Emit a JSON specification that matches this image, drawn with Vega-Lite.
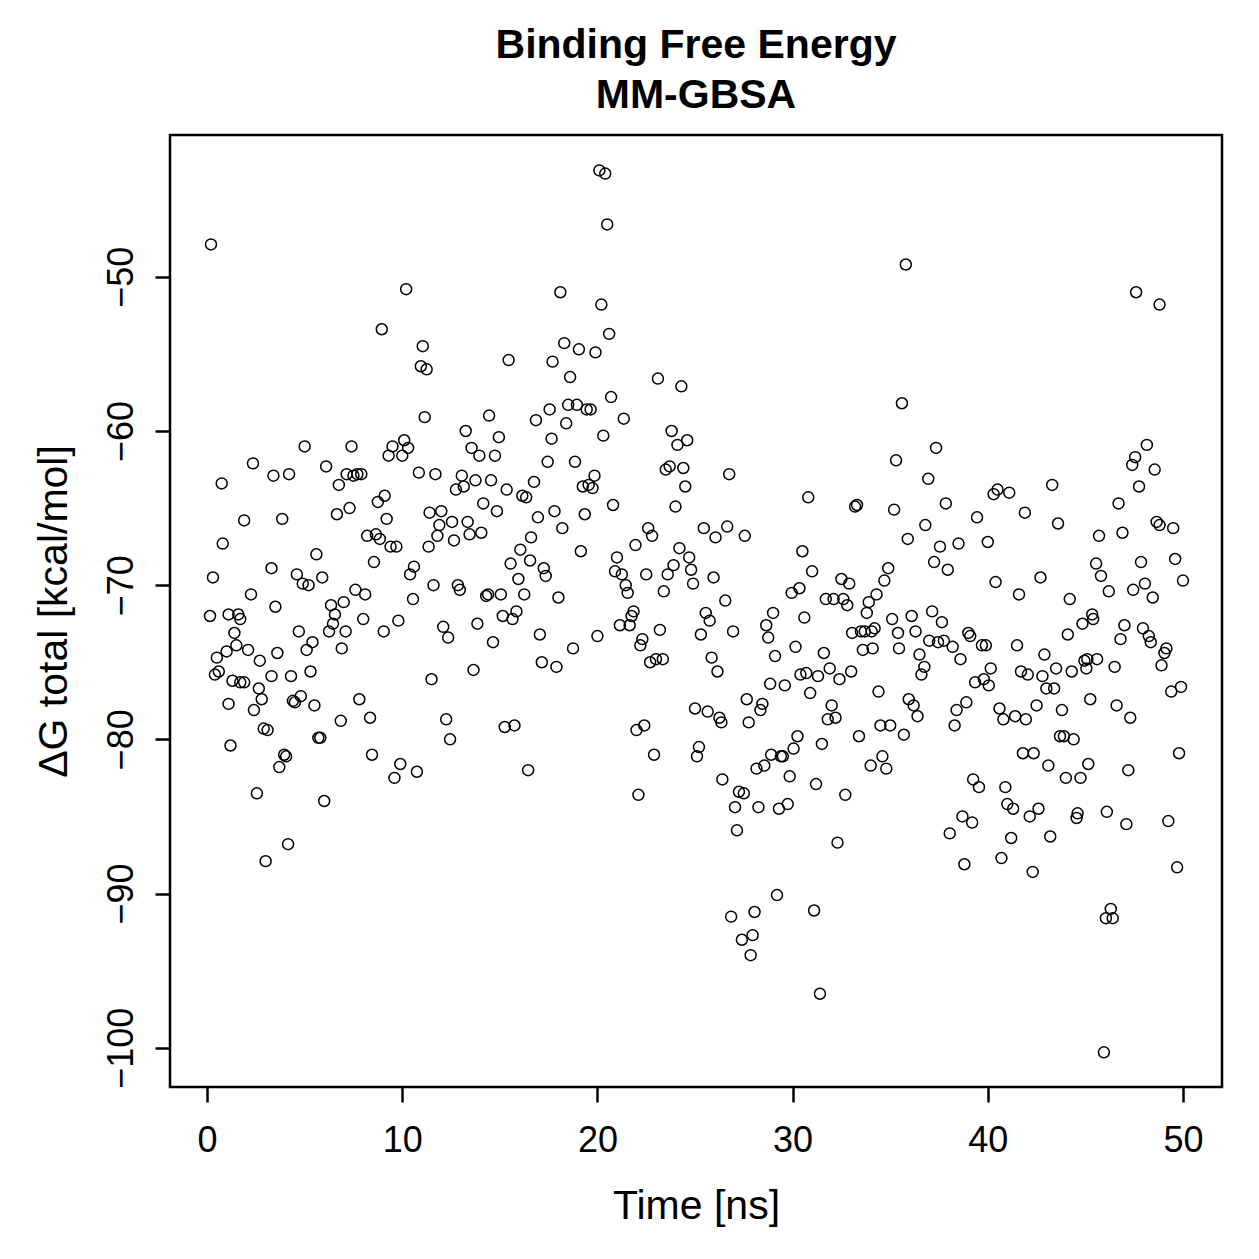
{
  "$schema": "https://vega.github.io/schema/vega-lite/v6.json",
  "width": 1052,
  "height": 952,
  "autosize": {"type": "none"},
  "padding": {"left": 170, "top": 135, "right": 37, "bottom": 172},
  "background": "white",
  "title": {
    "text": ["Binding Free Energy", "MM-GBSA"],
    "font": "Liberation Sans",
    "fontSize": 41,
    "fontWeight": "bold",
    "color": "black",
    "anchor": "middle",
    "frame": "group",
    "lineHeight": 50,
    "baseline": "alphabetic",
    "offset": 27,
    "dy": 41
  },
  "config": {
    "view": {"stroke": "black", "strokeWidth": 2.5},
    "axis": {
      "labelFont": "Liberation Sans",
      "titleFont": "Liberation Sans",
      "labelColor": "black",
      "titleColor": "black",
      "labelFontSize": 36,
      "titleFontSize": 41,
      "titleFontWeight": "normal",
      "domain": false,
      "grid": false,
      "ticks": true,
      "tickColor": "black",
      "tickWidth": 2.5,
      "tickSize": 15
    }
  },
  "data": {
    "values": [
      {"t":0.2,"dG":-47.9},{"t":0.15,"dG":-72.0},{"t":0.3,"dG":-69.5},{"t":0.4,"dG":-75.8},{"t":0.5,"dG":-74.7},
      {"t":0.6,"dG":-75.6},{"t":0.75,"dG":-63.4},{"t":0.8,"dG":-67.3},{"t":1.0,"dG":-74.3},{"t":1.1,"dG":-71.9},
      {"t":1.1,"dG":-77.7},{"t":1.2,"dG":-80.4},{"t":1.3,"dG":-76.2},{"t":1.4,"dG":-73.1},{"t":1.5,"dG":-73.9},
      {"t":1.6,"dG":-71.9},{"t":1.7,"dG":-72.2},{"t":1.7,"dG":-76.3},{"t":1.9,"dG":-76.3},{"t":1.9,"dG":-65.8},
      {"t":2.1,"dG":-74.2},{"t":2.25,"dG":-70.6},{"t":2.35,"dG":-62.1},{"t":2.4,"dG":-78.1},{"t":2.55,"dG":-83.5},
      {"t":2.65,"dG":-76.7},{"t":2.7,"dG":-74.9},{"t":2.8,"dG":-77.4},{"t":2.9,"dG":-79.3},{"t":3.0,"dG":-87.9},
      {"t":3.1,"dG":-79.4},{"t":3.3,"dG":-75.9},{"t":3.3,"dG":-68.9},{"t":3.4,"dG":-62.9},{"t":3.5,"dG":-71.4},
      {"t":3.6,"dG":-74.4},{"t":3.7,"dG":-81.8},{"t":3.85,"dG":-65.7},{"t":3.95,"dG":-81.0},{"t":4.05,"dG":-81.1},
      {"t":4.15,"dG":-86.8},{"t":4.2,"dG":-62.8},{"t":4.3,"dG":-75.9},{"t":4.4,"dG":-77.5},{"t":4.5,"dG":-77.6},
      {"t":4.6,"dG":-69.3},{"t":4.7,"dG":-73.0},{"t":4.8,"dG":-77.2},{"t":4.9,"dG":-69.9},{"t":5.0,"dG":-61.0},
      {"t":5.1,"dG":-74.2},{"t":5.2,"dG":-70.0},{"t":5.3,"dG":-75.6},{"t":5.4,"dG":-73.7},{"t":5.5,"dG":-77.8},
      {"t":5.6,"dG":-68.0},{"t":5.7,"dG":-79.9},{"t":5.8,"dG":-79.9},{"t":5.9,"dG":-69.5},{"t":6.0,"dG":-84.0},
      {"t":6.1,"dG":-62.3},{"t":6.25,"dG":-73.0},{"t":6.35,"dG":-71.3},{"t":6.45,"dG":-72.5},{"t":6.55,"dG":-71.9},
      {"t":6.65,"dG":-65.4},{"t":6.75,"dG":-63.5},{"t":6.85,"dG":-78.8},{"t":6.9,"dG":-74.1},{"t":7.0,"dG":-71.1},
      {"t":7.1,"dG":-73.0},{"t":7.15,"dG":-62.8},{"t":7.3,"dG":-65.0},{"t":7.4,"dG":-61.0},{"t":7.5,"dG":-62.9},
      {"t":7.6,"dG":-70.3},{"t":7.7,"dG":-62.8},{"t":7.8,"dG":-77.4},{"t":7.9,"dG":-62.8},{"t":8.0,"dG":-72.2},
      {"t":8.1,"dG":-70.6},{"t":8.2,"dG":-66.8},{"t":8.35,"dG":-78.6},{"t":8.45,"dG":-81.0},{"t":8.55,"dG":-68.5},
      {"t":8.65,"dG":-66.7},{"t":8.75,"dG":-64.6},{"t":8.85,"dG":-67.0},{"t":8.95,"dG":-53.4},{"t":9.05,"dG":-73.0},
      {"t":9.1,"dG":-64.2},{"t":9.2,"dG":-65.7},{"t":9.3,"dG":-61.6},{"t":9.4,"dG":-67.5},{"t":9.5,"dG":-61.0},
      {"t":9.6,"dG":-82.5},{"t":9.7,"dG":-67.5},{"t":9.8,"dG":-72.3},{"t":9.9,"dG":-81.6},{"t":10.0,"dG":-61.6},
      {"t":10.1,"dG":-60.6},{"t":10.2,"dG":-50.8},{"t":10.3,"dG":-61.1},{"t":10.4,"dG":-69.3},{"t":10.55,"dG":-70.9},
      {"t":10.6,"dG":-68.8},{"t":10.75,"dG":-82.1},{"t":10.85,"dG":-62.7},{"t":10.95,"dG":-55.8},{"t":11.05,"dG":-54.5},
      {"t":11.15,"dG":-59.1},{"t":11.25,"dG":-56.0},{"t":11.35,"dG":-67.5},{"t":11.4,"dG":-65.3},{"t":11.5,"dG":-76.1},
      {"t":11.6,"dG":-70.0},{"t":11.7,"dG":-62.8},{"t":11.8,"dG":-66.8},{"t":11.9,"dG":-66.1},{"t":12.0,"dG":-65.2},
      {"t":12.1,"dG":-72.7},{"t":12.25,"dG":-78.7},{"t":12.35,"dG":-73.4},{"t":12.45,"dG":-80.0},{"t":12.55,"dG":-65.9},
      {"t":12.65,"dG":-67.1},{"t":12.75,"dG":-63.8},{"t":12.85,"dG":-70.0},{"t":12.95,"dG":-70.3},{"t":13.05,"dG":-62.9},
      {"t":13.15,"dG":-63.6},{"t":13.25,"dG":-60.0},{"t":13.35,"dG":-65.9},{"t":13.45,"dG":-66.7},{"t":13.55,"dG":-61.1},
      {"t":13.65,"dG":-75.5},{"t":13.75,"dG":-63.2},{"t":13.85,"dG":-72.5},{"t":13.95,"dG":-61.6},{"t":14.05,"dG":-66.6},
      {"t":14.15,"dG":-64.7},{"t":14.3,"dG":-70.7},{"t":14.4,"dG":-70.6},{"t":14.45,"dG":-59.0},{"t":14.55,"dG":-63.2},
      {"t":14.65,"dG":-73.7},{"t":14.75,"dG":-61.6},{"t":14.85,"dG":-65.2},{"t":14.95,"dG":-60.4},{"t":15.05,"dG":-70.6},
      {"t":15.15,"dG":-72.0},{"t":15.25,"dG":-79.2},{"t":15.35,"dG":-63.8},{"t":15.45,"dG":-55.4},{"t":15.55,"dG":-68.6},
      {"t":15.65,"dG":-72.2},{"t":15.75,"dG":-79.1},{"t":15.85,"dG":-71.7},{"t":15.95,"dG":-69.6},{"t":16.05,"dG":-67.7},
      {"t":16.15,"dG":-64.2},{"t":16.25,"dG":-70.6},{"t":16.35,"dG":-64.3},{"t":16.45,"dG":-82.0},{"t":16.55,"dG":-68.4},
      {"t":16.6,"dG":-66.9},{"t":16.75,"dG":-63.3},{"t":16.85,"dG":-59.3},{"t":16.95,"dG":-65.6},{"t":17.05,"dG":-73.2},
      {"t":17.15,"dG":-75.0},{"t":17.25,"dG":-68.9},{"t":17.35,"dG":-69.4},{"t":17.45,"dG":-62.0},{"t":17.55,"dG":-58.6},
      {"t":17.65,"dG":-60.5},{"t":17.7,"dG":-55.5},{"t":17.8,"dG":-65.2},{"t":17.9,"dG":-75.3},{"t":18.0,"dG":-70.8},
      {"t":18.1,"dG":-51.0},{"t":18.2,"dG":-66.3},{"t":18.3,"dG":-54.3},{"t":18.4,"dG":-59.5},{"t":18.5,"dG":-58.3},
      {"t":18.6,"dG":-56.5},{"t":18.75,"dG":-74.1},{"t":18.85,"dG":-62.0},{"t":18.95,"dG":-58.3},{"t":19.05,"dG":-54.7},
      {"t":19.15,"dG":-67.8},{"t":19.25,"dG":-63.6},{"t":19.35,"dG":-65.4},{"t":19.45,"dG":-58.6},{"t":19.55,"dG":-63.5},
      {"t":19.65,"dG":-58.6},{"t":19.75,"dG":-63.7},{"t":19.85,"dG":-62.9},{"t":19.9,"dG":-54.9},{"t":20.0,"dG":-73.3},
      {"t":20.1,"dG":-43.1},{"t":20.2,"dG":-51.8},{"t":20.3,"dG":-60.3},{"t":20.4,"dG":-43.3},{"t":20.5,"dG":-46.6},
      {"t":20.6,"dG":-53.7},{"t":20.7,"dG":-57.8},{"t":20.8,"dG":-64.8},{"t":20.9,"dG":-69.1},{"t":21.0,"dG":-68.2},
      {"t":21.15,"dG":-72.6},{"t":21.25,"dG":-69.3},{"t":21.35,"dG":-59.2},{"t":21.45,"dG":-70.0},{"t":21.55,"dG":-70.5},
      {"t":21.65,"dG":-72.6},{"t":21.75,"dG":-72.0},{"t":21.85,"dG":-71.7},{"t":21.95,"dG":-67.4},{"t":22.0,"dG":-79.4},
      {"t":22.1,"dG":-83.6},{"t":22.2,"dG":-73.9},{"t":22.3,"dG":-73.5},{"t":22.4,"dG":-79.1},{"t":22.5,"dG":-69.3},
      {"t":22.6,"dG":-66.3},{"t":22.7,"dG":-75.0},{"t":22.8,"dG":-66.8},{"t":22.9,"dG":-81.0},{"t":23.0,"dG":-74.8},
      {"t":23.1,"dG":-56.6},{"t":23.2,"dG":-72.9},{"t":23.35,"dG":-74.8},{"t":23.4,"dG":-70.4},{"t":23.5,"dG":-62.5},
      {"t":23.6,"dG":-69.3},{"t":23.7,"dG":-62.3},{"t":23.8,"dG":-60.0},{"t":23.9,"dG":-68.7},{"t":24.0,"dG":-64.9},
      {"t":24.1,"dG":-60.9},{"t":24.2,"dG":-67.6},{"t":24.3,"dG":-57.1},{"t":24.4,"dG":-62.4},{"t":24.5,"dG":-63.6},
      {"t":24.6,"dG":-60.6},{"t":24.7,"dG":-68.2},{"t":24.8,"dG":-69.0},{"t":24.9,"dG":-69.9},{"t":25.0,"dG":-78.0},
      {"t":25.1,"dG":-81.1},{"t":25.2,"dG":-80.5},{"t":25.3,"dG":-73.2},{"t":25.45,"dG":-66.3},{"t":25.55,"dG":-71.8},
      {"t":25.65,"dG":-78.2},{"t":25.75,"dG":-72.3},{"t":25.85,"dG":-74.7},{"t":25.95,"dG":-69.5},{"t":26.05,"dG":-66.9},
      {"t":26.15,"dG":-75.6},{"t":26.25,"dG":-78.6},{"t":26.35,"dG":-78.9},{"t":26.4,"dG":-82.6},{"t":26.55,"dG":-71.0},
      {"t":26.65,"dG":-66.2},{"t":26.75,"dG":-62.8},{"t":26.85,"dG":-91.5},{"t":26.95,"dG":-73.0},{"t":27.05,"dG":-84.4},
      {"t":27.15,"dG":-85.9},{"t":27.25,"dG":-83.4},{"t":27.4,"dG":-93.0},{"t":27.5,"dG":-83.5},{"t":27.55,"dG":-66.8},
      {"t":27.65,"dG":-77.4},{"t":27.75,"dG":-78.9},{"t":27.85,"dG":-94.0},{"t":27.95,"dG":-92.7},{"t":28.05,"dG":-91.2},
      {"t":28.15,"dG":-81.9},{"t":28.25,"dG":-84.4},{"t":28.35,"dG":-78.1},{"t":28.45,"dG":-77.7},{"t":28.55,"dG":-81.7},
      {"t":28.65,"dG":-72.6},{"t":28.75,"dG":-73.4},{"t":28.85,"dG":-76.4},{"t":28.9,"dG":-81.0},{"t":29.0,"dG":-71.8},
      {"t":29.1,"dG":-74.6},{"t":29.2,"dG":-90.1},{"t":29.3,"dG":-84.5},{"t":29.4,"dG":-81.1},{"t":29.5,"dG":-81.1},
      {"t":29.6,"dG":-76.5},{"t":29.75,"dG":-84.2},{"t":29.85,"dG":-82.4},{"t":29.95,"dG":-70.5},{"t":30.05,"dG":-80.6},
      {"t":30.15,"dG":-74.0},{"t":30.25,"dG":-79.8},{"t":30.35,"dG":-70.2},{"t":30.4,"dG":-75.8},{"t":30.5,"dG":-67.8},
      {"t":30.6,"dG":-72.1},{"t":30.7,"dG":-75.7},{"t":30.8,"dG":-64.3},{"t":30.9,"dG":-77.0},{"t":31.0,"dG":-69.1},
      {"t":31.1,"dG":-91.1},{"t":31.2,"dG":-82.9},{"t":31.3,"dG":-75.9},{"t":31.4,"dG":-96.5},{"t":31.5,"dG":-80.3},
      {"t":31.6,"dG":-74.4},{"t":31.7,"dG":-70.9},{"t":31.8,"dG":-78.7},{"t":31.9,"dG":-75.4},{"t":32.0,"dG":-77.8},
      {"t":32.1,"dG":-70.9},{"t":32.2,"dG":-78.6},{"t":32.3,"dG":-86.7},{"t":32.4,"dG":-76.1},{"t":32.5,"dG":-69.6},
      {"t":32.6,"dG":-70.9},{"t":32.7,"dG":-83.6},{"t":32.8,"dG":-71.3},{"t":32.9,"dG":-69.9},{"t":33.0,"dG":-75.6},
      {"t":33.05,"dG":-73.1},{"t":33.2,"dG":-64.9},{"t":33.3,"dG":-64.8},{"t":33.4,"dG":-79.8},{"t":33.5,"dG":-73.0},
      {"t":33.6,"dG":-74.2},{"t":33.7,"dG":-73.0},{"t":33.8,"dG":-71.8},{"t":33.9,"dG":-71.1},{"t":34.0,"dG":-81.7},
      {"t":34.05,"dG":-73.0},{"t":34.1,"dG":-74.1},{"t":34.2,"dG":-72.8},{"t":34.3,"dG":-70.6},{"t":34.4,"dG":-76.9},
      {"t":34.5,"dG":-79.1},{"t":34.6,"dG":-81.1},{"t":34.7,"dG":-69.7},{"t":34.8,"dG":-81.9},{"t":34.9,"dG":-68.9},
      {"t":35.0,"dG":-79.1},{"t":35.1,"dG":-72.2},{"t":35.2,"dG":-65.1},{"t":35.3,"dG":-61.9},{"t":35.4,"dG":-73.1},
      {"t":35.45,"dG":-74.1},{"t":35.6,"dG":-58.2},{"t":35.7,"dG":-79.7},{"t":35.8,"dG":-49.2},{"t":35.9,"dG":-67.0},
      {"t":35.95,"dG":-77.4},{"t":36.1,"dG":-72.0},{"t":36.2,"dG":-77.8},{"t":36.3,"dG":-73.0},{"t":36.4,"dG":-78.5},
      {"t":36.5,"dG":-74.5},{"t":36.6,"dG":-75.8},{"t":36.75,"dG":-75.3},{"t":36.8,"dG":-66.1},{"t":36.95,"dG":-63.1},
      {"t":37.0,"dG":-73.6},{"t":37.15,"dG":-71.7},{"t":37.25,"dG":-68.5},{"t":37.35,"dG":-61.1},{"t":37.45,"dG":-73.7},
      {"t":37.55,"dG":-67.5},{"t":37.65,"dG":-72.4},{"t":37.75,"dG":-73.6},{"t":37.85,"dG":-64.7},{"t":37.95,"dG":-69.0},
      {"t":38.05,"dG":-86.1},{"t":38.2,"dG":-74.0},{"t":38.3,"dG":-79.1},{"t":38.4,"dG":-78.1},{"t":38.5,"dG":-67.3},
      {"t":38.6,"dG":-74.8},{"t":38.7,"dG":-85.0},{"t":38.8,"dG":-88.1},{"t":38.9,"dG":-77.6},{"t":39.0,"dG":-73.1},
      {"t":39.1,"dG":-73.3},{"t":39.2,"dG":-85.4},{"t":39.25,"dG":-82.6},{"t":39.35,"dG":-76.3},{"t":39.45,"dG":-65.6},
      {"t":39.55,"dG":-83.1},{"t":39.7,"dG":-73.9},{"t":39.8,"dG":-76.1},{"t":39.9,"dG":-73.9},{"t":40.0,"dG":-67.2},
      {"t":40.05,"dG":-76.5},{"t":40.15,"dG":-75.4},{"t":40.3,"dG":-64.1},{"t":40.4,"dG":-69.8},{"t":40.5,"dG":-63.8},
      {"t":40.6,"dG":-78.0},{"t":40.7,"dG":-87.7},{"t":40.8,"dG":-78.7},{"t":40.9,"dG":-83.1},{"t":41.0,"dG":-84.2},
      {"t":41.1,"dG":-64.0},{"t":41.2,"dG":-86.4},{"t":41.3,"dG":-84.5},{"t":41.4,"dG":-78.5},{"t":41.5,"dG":-73.9},
      {"t":41.6,"dG":-70.6},{"t":41.7,"dG":-75.6},{"t":41.8,"dG":-80.9},{"t":41.9,"dG":-65.3},{"t":41.95,"dG":-78.7},
      {"t":42.05,"dG":-75.8},{"t":42.15,"dG":-85.0},{"t":42.3,"dG":-88.6},{"t":42.35,"dG":-80.9},{"t":42.5,"dG":-77.8},
      {"t":42.6,"dG":-84.5},{"t":42.7,"dG":-69.5},{"t":42.8,"dG":-75.9},{"t":42.9,"dG":-74.5},{"t":43.0,"dG":-76.7},
      {"t":43.1,"dG":-81.7},{"t":43.2,"dG":-86.3},{"t":43.3,"dG":-63.5},{"t":43.4,"dG":-76.7},{"t":43.5,"dG":-75.4},
      {"t":43.6,"dG":-66.0},{"t":43.7,"dG":-79.8},{"t":43.8,"dG":-78.1},{"t":43.9,"dG":-79.8},{"t":44.0,"dG":-82.5},
      {"t":44.1,"dG":-73.2},{"t":44.2,"dG":-70.9},{"t":44.3,"dG":-75.6},{"t":44.4,"dG":-80.0},{"t":44.55,"dG":-85.1},
      {"t":44.6,"dG":-84.8},{"t":44.75,"dG":-82.5},{"t":44.85,"dG":-72.5},{"t":44.95,"dG":-74.9},{"t":45.05,"dG":-75.4},
      {"t":45.1,"dG":-74.8},{"t":45.15,"dG":-81.6},{"t":45.25,"dG":-77.4},{"t":45.35,"dG":-71.9},{"t":45.4,"dG":-72.2},
      {"t":45.55,"dG":-68.6},{"t":45.6,"dG":-74.8},{"t":45.7,"dG":-66.8},{"t":45.8,"dG":-69.4},{"t":45.95,"dG":-100.3},
      {"t":46.05,"dG":-91.6},{"t":46.1,"dG":-84.7},{"t":46.2,"dG":-70.4},{"t":46.3,"dG":-91.0},{"t":46.4,"dG":-91.6},
      {"t":46.5,"dG":-75.3},{"t":46.6,"dG":-77.8},{"t":46.7,"dG":-64.7},{"t":46.8,"dG":-73.5},{"t":46.9,"dG":-66.6},
      {"t":47.0,"dG":-72.6},{"t":47.1,"dG":-85.5},{"t":47.2,"dG":-82.0},{"t":47.3,"dG":-78.6},{"t":47.4,"dG":-62.2},
      {"t":47.45,"dG":-70.3},{"t":47.55,"dG":-61.7},{"t":47.6,"dG":-51.0},{"t":47.75,"dG":-63.6},{"t":47.85,"dG":-68.5},
      {"t":47.95,"dG":-72.8},{"t":48.05,"dG":-69.9},{"t":48.15,"dG":-60.9},{"t":48.25,"dG":-73.3},{"t":48.35,"dG":-73.7},
      {"t":48.45,"dG":-70.8},{"t":48.55,"dG":-62.5},{"t":48.65,"dG":-65.9},{"t":48.8,"dG":-66.1},{"t":48.8,"dG":-51.8},
      {"t":48.9,"dG":-75.2},{"t":49.05,"dG":-74.4},{"t":49.15,"dG":-74.1},{"t":49.25,"dG":-85.3},{"t":49.4,"dG":-76.9},
      {"t":49.5,"dG":-66.3},{"t":49.6,"dG":-68.3},{"t":49.7,"dG":-88.3},{"t":49.8,"dG":-80.9},{"t":49.9,"dG":-76.6},
      {"t":50.0,"dG":-69.7}
    ]
  },
  "mark": {"type": "point", "shape": "circle", "filled": false, "color": "black", "size": 120, "strokeWidth": 1.5, "opacity": 1},
  "encoding": {
    "x": {
      "field": "t",
      "type": "quantitative",
      "scale": {"domain": [-1.9, 52.0], "nice": false, "zero": false},
      "axis": {
        "title": "Time [ns]",
        "values": [0, 10, 20, 30, 40, 50],
        "labelBaseline": "alphabetic",
        "labelPadding": 49,
        "labelFlush": false,
        "labelOverlap": false,
        "titleBaseline": "alphabetic",
        "titleY": 131
      }
    },
    "y": {
      "field": "dG",
      "type": "quantitative",
      "scale": {"domain": [-102.55, -40.8], "nice": false, "zero": false},
      "axis": {
        "title": "ΔG total [kcal/mol]",
        "values": [-100, -90, -80, -70, -60, -50],
        "labelAngle": -90,
        "labelAlign": "center",
        "labelBaseline": "alphabetic",
        "labelPadding": 23,
        "labelFlush": false,
        "labelOverlap": false,
        "titleAngle": -90,
        "titleAlign": "center",
        "titleBaseline": "alphabetic",
        "titleX": -104,
        "titleY": 476
      }
    }
  }
}
